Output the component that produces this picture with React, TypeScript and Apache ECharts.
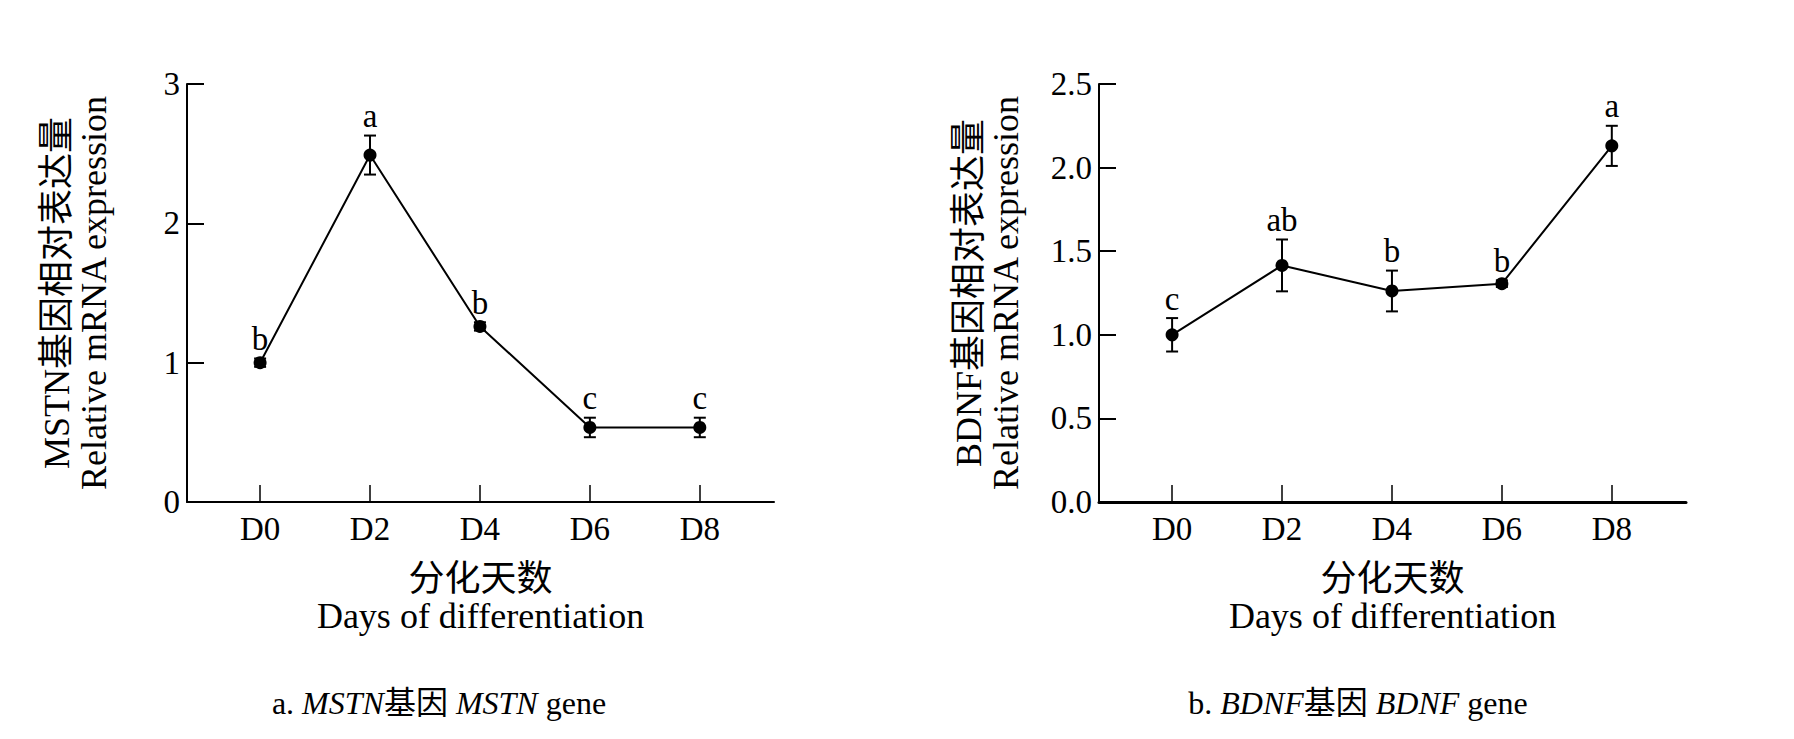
import React, { useEffect, useRef } from 'react'
import * as echarts from 'echarts'

// 分化天数
const days = [0, 2, 4, 6, 8]

// MSTN 相对表达量（均值 / 误差 / 显著性字母）
const mstnMean = [1.0, 2.49, 1.26, 0.535, 0.535]
const mstnErr = [0.03, 0.14, 0.03, 0.07, 0.07]
const mstnLetters = ['b', 'a', 'b', 'c', 'c']

// BDNF 相对表达量
const bdnfMean = [1.0, 1.415, 1.262, 1.306, 2.13]
const bdnfErr = [0.1, 0.155, 0.122, 0.02, 0.12]
const bdnfLetters = ['c', 'ab', 'b', 'b', 'a']

const serif = 'Liberation Serif, "Noto Sans CJK SC", serif'
const black = '#000'

function errorBarSeries(idx: number, mean: number[], err: number[]) {
  return {
    type: 'custom',
    xAxisIndex: idx,
    yAxisIndex: idx,
    z: 1,
    data: days.map((d, i) => [d, mean[i] - err[i], mean[i] + err[i]]),
    renderItem: (_params: any, api: any) => {
      const x = api.value(0)
      const lo = api.coord([x, api.value(1)])
      const hi = api.coord([x, api.value(2)])
      const w = 6
      const style = { stroke: black, lineWidth: 2 }
      return {
        type: 'group',
        children: [
          { type: 'line', shape: { x1: lo[0], y1: lo[1], x2: hi[0], y2: hi[1] }, style },
          { type: 'line', shape: { x1: hi[0] - w, y1: hi[1], x2: hi[0] + w, y2: hi[1] }, style },
          { type: 'line', shape: { x1: lo[0] - w, y1: lo[1], x2: lo[0] + w, y2: lo[1] }, style },
        ],
      }
    },
  }
}

function lineSeries(idx: number, mean: number[]) {
  return {
    type: 'line',
    xAxisIndex: idx,
    yAxisIndex: idx,
    z: 3,
    data: days.map((d, i) => [d, mean[i]]),
    symbol: 'circle',
    symbolSize: 13,
    itemStyle: { color: black },
    lineStyle: { color: black, width: 2 },
  }
}

function letterSeries(idx: number, mean: number[], err: number[], letters: string[]) {
  return {
    type: 'scatter',
    xAxisIndex: idx,
    yAxisIndex: idx,
    z: 4,
    symbolSize: 0,
    data: days.map((d, i) => ({ value: [d, mean[i] + err[i]], name: letters[i] })),
    label: {
      show: true,
      position: 'top',
      distance: 3,
      formatter: '{b}',
      fontFamily: serif,
      fontSize: 33,
      color: black,
      opacity: 1,
    },
  }
}

function xAxisOf(idx: number, lineWidth: number) {
  return {
    type: 'value',
    gridIndex: idx,
    min: -1.33,
    max: 9.35,
    splitLine: { show: false },
    axisLine: { onZero: false, lineStyle: { color: black, width: lineWidth } },
    axisTick: {
      customValues: days,
      inside: true,
      length: 17,
      lineStyle: { color: black, width: 1.5 },
    },
    axisLabel: {
      customValues: days,
      formatter: (v: number) => 'D' + v,
      margin: 10,
      fontFamily: serif,
      fontSize: 33,
      color: black,
    },
    name: '分化天数\nDays of differentiation',
    nameLocation: 'middle',
    nameGap: 58,
    nameTextStyle: { fontFamily: serif, fontSize: 36, lineHeight: 37, color: black },
  }
}

function yAxisOf(idx: number, max: number, interval: number, digits: number, gene: string) {
  return {
    type: 'value',
    gridIndex: idx,
    min: 0,
    max,
    interval,
    splitLine: { show: false },
    axisLine: { show: true, onZero: false, lineStyle: { color: black, width: 2 } },
    axisTick: { inside: true, length: 17, lineStyle: { color: black, width: 2 } },
    axisLabel: {
      formatter: (v: number) => v.toFixed(digits),
      margin: 7,
      fontFamily: serif,
      fontSize: 33,
      color: black,
    },
    name: gene + '基因相对表达量\nRelative mRNA expression',
    nameLocation: 'middle',
    nameGap: 75,
    nameRotate: 90,
    nameTextStyle: { fontFamily: serif, fontSize: 36, lineHeight: 37, color: black },
  }
}

function caption(x: number, prefix: string, gene: string) {
  return {
    type: 'text',
    x,
    y: 703,
    style: {
      text: `${prefix} {i|${gene}}基因 {i|${gene}} gene`,
      align: 'center',
      verticalAlign: 'middle',
      fontFamily: serif,
      fontSize: 32,
      fill: black,
      rich: {
        i: { fontFamily: serif, fontStyle: 'italic', fontSize: 32, fill: black },
      },
    },
  }
}

export default function App() {
  const chartRef = useRef<HTMLDivElement>(null)

  useEffect(() => {
    if (!chartRef.current) return
    const chart = echarts.init(chartRef.current, undefined, { renderer: 'svg' })

    chart.setOption({
      animation: false,
      backgroundColor: '#fff',
      grid: [
        { left: 187, top: 84, width: 587, height: 418 },
        { left: 1099, top: 84, width: 587, height: 418 },
      ],
      xAxis: [xAxisOf(0, 2), xAxisOf(1, 3)],
      yAxis: [
        yAxisOf(0, 3, 1, 0, 'MSTN'),
        yAxisOf(1, 2.5, 0.5, 1, 'BDNF'),
      ],
      series: [
        errorBarSeries(0, mstnMean, mstnErr),
        lineSeries(0, mstnMean),
        letterSeries(0, mstnMean, mstnErr, mstnLetters),
        errorBarSeries(1, bdnfMean, bdnfErr),
        lineSeries(1, bdnfMean),
        letterSeries(1, bdnfMean, bdnfErr, bdnfLetters),
      ],
      graphic: [caption(439, 'a.', 'MSTN'), caption(1358, 'b.', 'BDNF')],
    })

    return () => {
      chart.dispose()
    }
  }, [])

  return (
    <div
      ref={chartRef}
      style={{ position: 'absolute', left: 0, top: 0, width: '1794px', height: '739px' }}
    />
  )
}
